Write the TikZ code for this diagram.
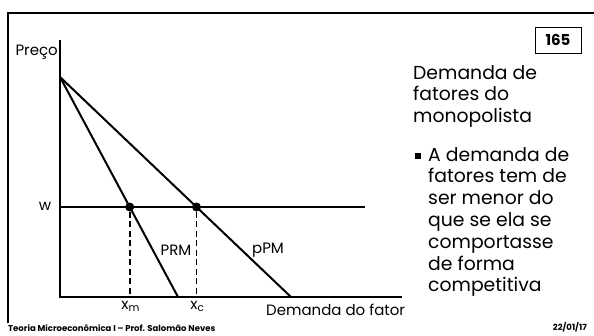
\documentclass[tikz,border=0pt]{standalone}
\usepackage{fontspec}
\setmainfont{Poppins}
\usetikzlibrary{calc}
\tikzset{
  frameline/.style={line width=2.6pt},
  axisline/.style={line width=2pt},
  curve/.style={line width=2pt},
  guide/.style={line width=1.8pt, dash pattern=on 6pt off 3.5pt},
  dot/.style={circle, fill=black, inner sep=0pt, minimum size=9pt},
  lbl/.style={inner sep=0pt, font=\fontsize{15}{17}\selectfont},
  bigtxt/.style={inner sep=0pt, align=left, font=\fontsize{18.8}{21.8}\selectfont},
  foot/.style={inner sep=0pt, font=\fontsize{8.5}{10}\selectfont\bfseries},
}
\begin{document}
\begin{tikzpicture}[x=1pt,y=-1pt]
\useasboundingbox (0,0) rectangle (594,335);
% frame
\coordinate (FR) at (594,13);
\coordinate (FC) at (8,13);
\coordinate (FB) at (8,323);
\draw[frameline] (FR) -- (FC) -- (FB);
% axes
\coordinate (O) at (60,297);
\coordinate (Ytop) at (60,40);
\coordinate (Xend) at (402,297);
\draw[axisline] (Ytop) -- (O) -- (Xend);
% demand curves
\coordinate (A) at (60,77);
\coordinate (Bm) at (178,297);
\coordinate (Bc) at (291,297);
\draw[curve] (A) -- (Bm);
\draw[curve] (A) -- (Bc);
% wage line
\coordinate (W0) at (60,207);
\coordinate (Wend) at (365,207);
\draw[curve] (W0) -- (Wend);
% intersections
\node[dot] (Dm) at ($(A)!{130/220}!(Bm)$) {};
\node[dot] (Dc) at ($(A)!{130/220}!(Bc)$) {};
\coordinate (Fm) at (Dm |- O);
\coordinate (Fc) at (Dc |- O);
\draw[guide] (Dm) -- (Fm);
\draw[guide] (Dc) -- (Fc);
% labels
\node[lbl, anchor=east] (preco) at (58,52) {Preço};
\node[lbl] (w) at (45,206) {w};
\node[lbl, anchor=north] (xm) at ($(Fm)+(1,4)$) {x\textsubscript{m}};
\node[lbl, anchor=north] (xc) at ($(Fc)+(1,4)$) {x\textsubscript{c}};
\node[lbl] (prm) at (176,250) {PRM};
\node[lbl] (ppm) at (268,250) {pPM};
\node[lbl, anchor=west] (dem) at (266,310) {Demanda do fator};
% page number
\node[draw, line width=0.8pt, minimum width=46pt, minimum height=26pt, inner sep=0pt,
      font=\fontsize{15}{17}\selectfont\bfseries] (num) at (558,40) {165};
% title
\node[bigtxt, anchor=north west] (title) at (413,65) {Demanda de\\fatores do\\monopolista};
% bullet
\node[fill=black, inner sep=0pt, minimum size=5.5pt] (bul) at (418,156) {};
\node[bigtxt, anchor=north west] (body) at (428,147) {A demanda de\\fatores tem de\\ser menor do\\que se ela se\\comportasse\\de forma\\competitiva};
% footer
\node[foot, anchor=west] (footl) at (8,328.5) {Teoria Microeconômica I – Prof. Salomão Neves};
\node[foot, anchor=east] (footr) at (587,327.5) {22/01/17};
\end{tikzpicture}
\end{document}
